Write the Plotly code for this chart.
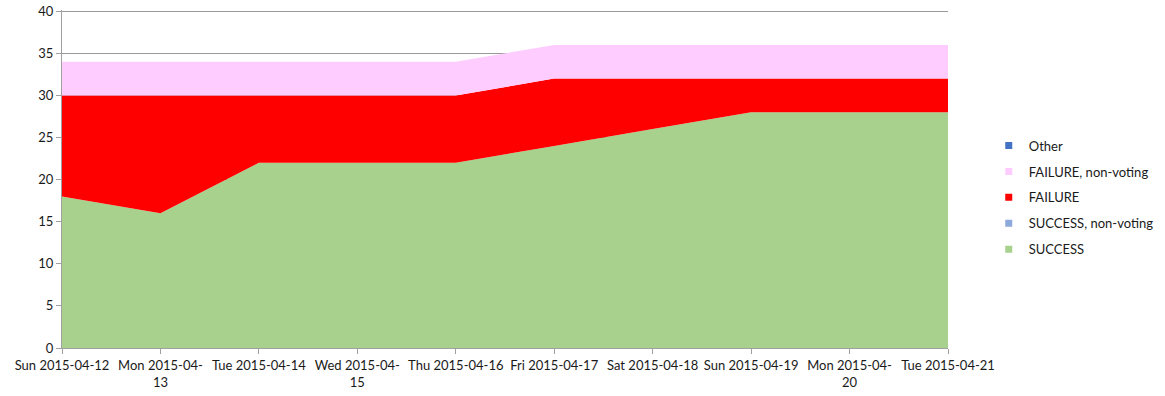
import plotly.graph_objects as go

categories = ["Sun 2015-04-12", "Mon 2015-04-13", "Tue 2015-04-14", "Wed 2015-04-15",
              "Thu 2015-04-16", "Fri 2015-04-17", "Sat 2015-04-18", "Sun 2015-04-19",
              "Mon 2015-04-20", "Tue 2015-04-21"]
tick_labels = ["Sun 2015-04-12", "Mon 2015-04-<br>13", "Tue 2015-04-14", "Wed 2015-04-<br>15",
               "Thu 2015-04-16", "Fri 2015-04-17", "Sat 2015-04-18", "Sun 2015-04-19",
               "Mon 2015-04-<br>20", "Tue 2015-04-21"]
success = [18, 16, 22, 22, 22, 24, 26, 28, 28, 28]
success_nv = [0, 0, 0, 0, 0, 0, 0, 0, 0, 0]
failure = [12, 14, 8, 8, 8, 8, 6, 4, 4, 4]
failure_nv = [4, 4, 4, 4, 4, 4, 4, 4, 4, 4]
other = [0, 0, 0, 0, 0, 0, 0, 0, 0, 0]

series = [
    ("SUCCESS", success, "#A9D18E"),
    ("SUCCESS, non-voting", success_nv, "#8EA9DB"),
    ("FAILURE", failure, "#FF0000"),
    ("FAILURE, non-voting", failure_nv, "#FFCCFF"),
    ("Other", other, "#4472C4"),
]

xs = list(range(len(categories)))
fig = go.Figure()
for name, vals, col in series:
    fig.add_trace(go.Scatter(x=xs, y=vals, name=name, stackgroup="one", mode="none",
                             fillcolor=col, line=dict(width=0), showlegend=False))
# legend entries (square markers), top to bottom
for i, (name, vals, col) in enumerate(reversed(series)):
    fig.add_trace(go.Scatter(x=[None], y=[None], name=name, mode="markers",
                             marker=dict(symbol="square", size=7, color=col),
                             legendgroup=f"g{i}", showlegend=True))

font = dict(family="Lato, Calibri, sans-serif", size=13, color="#1a1a1a")
fig.update_layout(
    width=1165, height=396,
    margin=dict(l=62, r=217, t=10, b=48, autoexpand=False),
    paper_bgcolor="white", plot_bgcolor="white",
    font=font,
    legend=dict(x=1.046, y=0.445, xanchor="left", yanchor="middle",
                traceorder="grouped", tracegroupgap=6, itemwidth=30,
                font=dict(family="Lato, Calibri, sans-serif", size=13, color="#1a1a1a")),
    xaxis=dict(range=[0, 9], tickvals=xs, ticktext=tick_labels, showgrid=False,
               ticks="outside", ticklen=5, tickcolor="#A0A0A0", showline=True,
               linecolor="#A0A0A0", zeroline=False, tickangle=0, automargin=False),
    yaxis=dict(range=[0, 40.15], tickvals=[0, 5, 10, 15, 20, 25, 30, 35, 40],
               showgrid=True, gridcolor="#9A9A9A", gridwidth=1,
               ticks="outside", ticklen=5, tickcolor="#A0A0A0", showline=True,
               linecolor="#A0A0A0", zeroline=False, automargin=False),
)
fig.write_html("out.html", config={"displayModeBar": False},
               post_script="document.body.style.margin='0';")
